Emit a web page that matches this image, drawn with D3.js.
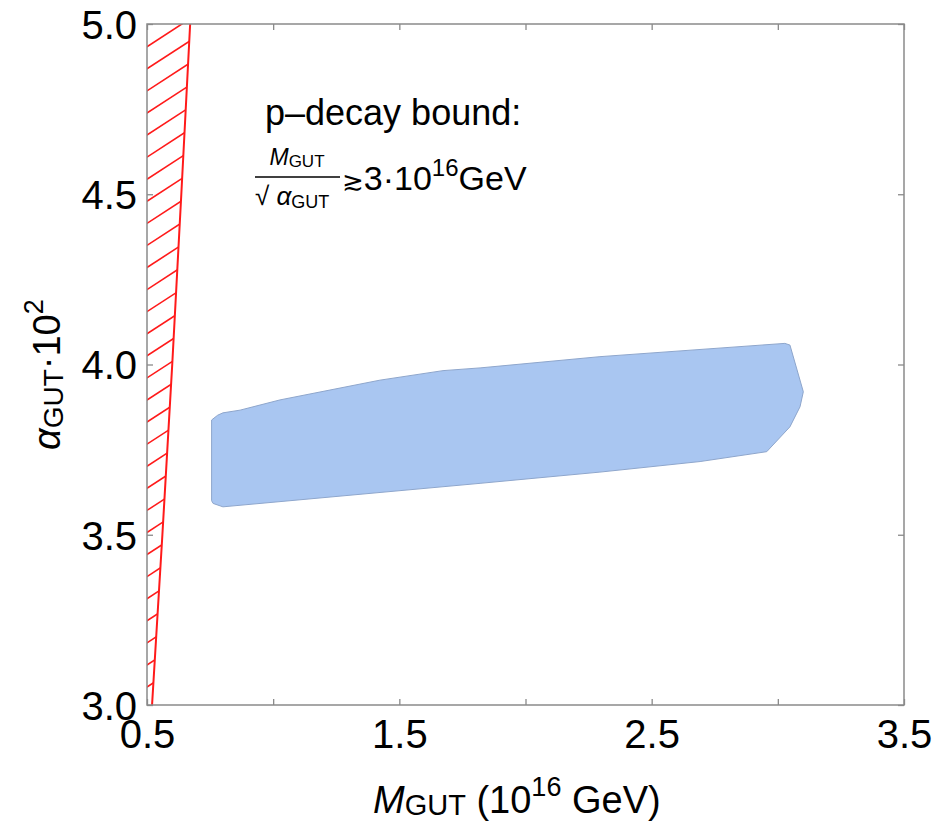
<!DOCTYPE html>
<html>
<head>
<meta charset="utf-8">
<script src="https://cdn.jsdelivr.net/npm/d3@7"></script>
<style>
  body { margin: 0; background: #fff; }
  svg { font-family: "Liberation Sans", Arial, sans-serif; }
</style>
</head>
<body>
<svg id="chart" width="948" height="827"></svg>
<script>
// tick values
var xTicks = [0.5, 1.0, 1.5, 2.0, 2.5, 3.0, 3.5]
var xLabels = [0.5, 1.5, 2.5, 3.5]
var yTicks = [3.0, 3.5, 4.0, 4.5, 5.0]

// proton decay bound
var boundAlpha = [3.0, 3.5, 4.0, 4.5, 5.0]
var boundM = [0.52, 0.561, 0.60, 0.636, 0.671]

// allowed region outline (blue), clockwise from lower left
var regionM = [0.762, 0.756, 0.756, 0.780, 0.801, 0.869, 1.027, 1.225, 1.423, 1.673, 1.820, 2.295, 3.028, 3.048, 3.101, 3.088, 3.048, 2.956, 2.692, 2.295, 1.820, 0.801]
var regionAlpha = [3.592, 3.600, 3.837, 3.851, 3.858, 3.866, 3.896, 3.925, 3.954, 3.982, 3.990, 4.023, 4.062, 4.057, 3.920, 3.876, 3.817, 3.744, 3.715, 3.684, 3.651, 3.582]

var margin = {left: 147, right: 44, top: 24, bottom: 122}
var width = 948, height = 827

var svg = d3.select("#chart")

var x = d3.scaleLinear().domain([0.5, 3.5]).range([margin.left, width - margin.right])
var y = d3.scaleLinear().domain([3, 5]).range([height - margin.bottom, margin.top])

var x0 = x.range()[0], x1 = x.range()[1]
var yTop = y.range()[1], yBot = y.range()[0]

svg.append("defs").append("clipPath")
  .attr("id", "plot-clip")
  .append("rect")
  .attr("x", x0).attr("y", yTop)
  .attr("width", x1 - x0).attr("height", yBot - yTop)

// hatched excluded area left of the bound
var hatchPts = [[x(0.5), y(5)]]
for (var i = boundAlpha.length - 1; i >= 0; i--) hatchPts.push([x(boundM[i]), y(boundAlpha[i])])
hatchPts.push([x(0.5), y(3)])

svg.select("defs").append("clipPath")
  .attr("id", "hatch-clip")
  .append("path")
  .attr("d", "M" + hatchPts.join("L") + "Z")

var plot = svg.append("g").attr("clip-path", "url(#plot-clip)")

var hatch = plot.append("g").attr("clip-path", "url(#hatch-clip)")
var slope = 0.65, step = 22.08
for (var yy = yTop + 22.7 - step; yy < yBot + 80; yy += step) {
  hatch.append("line")
    .attr("x1", x0 - 20).attr("y1", yy + 20 * slope)
    .attr("x2", x0 + 120).attr("y2", yy - 120 * slope)
    .attr("stroke", "#ff1a1a")
    .attr("stroke-width", 1.6)
}

var boundLine = d3.line()
  .x(function(d, i) { return x(boundM[i]) })
  .y(function(d) { return y(d) })

plot.append("path")
  .attr("d", boundLine(boundAlpha))
  .attr("fill", "none")
  .attr("stroke", "#ff1a1a")
  .attr("stroke-width", 2)

// allowed region
var regionLine = d3.line()
  .x(function(d) { return x(d) })
  .y(function(d, i) { return y(regionAlpha[i]) })

plot.append("path")
  .attr("d", regionLine(regionM) + "Z")
  .attr("fill", "#a9c6f1")
  .attr("stroke", "#8ea6cc")
  .attr("stroke-width", 1)

// axes, ticks pointing inward on all four sides
var fmt = d3.format(".1f")
var axisColor = "#8a8a8a"

function styleAxis(g) {
  g.select(".domain").remove()
  g.selectAll(".tick line").attr("stroke", axisColor).attr("stroke-width", 1.3)
  g.selectAll(".tick text").attr("fill", "#000").style("font-size", "40px")
}

svg.append("g")
  .attr("transform", "translate(0," + yBot + ")")
  .call(d3.axisBottom(x).tickValues(xTicks).tickSizeInner(-6).tickSizeOuter(0)
    .tickFormat(function(d) { return xLabels.indexOf(d) >= 0 ? fmt(d) : "" }))
  .call(styleAxis)
  .selectAll(".tick text").attr("y", 15).attr("dy", "0.71em")

svg.append("g")
  .attr("transform", "translate(0," + yTop + ")")
  .call(d3.axisTop(x).tickValues(xTicks).tickSizeInner(-6).tickSizeOuter(0).tickFormat(""))
  .call(styleAxis)

svg.append("g")
  .attr("transform", "translate(" + x0 + ",0)")
  .call(d3.axisLeft(y).tickValues(yTicks).tickSizeInner(-6).tickSizeOuter(0).tickFormat(fmt))
  .call(styleAxis)
  .selectAll(".tick text").attr("x", -10).attr("dy", "0.36em")

svg.append("g")
  .attr("transform", "translate(" + x1 + ",0)")
  .call(d3.axisRight(y).tickValues(yTicks).tickSizeInner(-6).tickSizeOuter(0).tickFormat(""))
  .call(styleAxis)

// frame
svg.append("rect")
  .attr("x", x0).attr("y", yTop)
  .attr("width", x1 - x0).attr("height", yBot - yTop)
  .attr("fill", "none")
  .attr("stroke", axisColor)
  .attr("stroke-width", 1.5)

// axis titles
var xt = svg.append("text")
  .attr("x", 373).attr("y", 813)
  .style("font-size", "38px")
xt.append("tspan").style("font-style", "italic").text("M")
xt.append("tspan").style("font-size", "29px").attr("dy", 2).text("GUT")
xt.append("tspan").attr("dy", -2).text(" (10")
xt.append("tspan").style("font-size", "27px").attr("dy", -17).text("16")
xt.append("tspan").attr("dy", 17).text(" GeV)")

var yt = svg.append("text")
  .attr("transform", "translate(60,450) rotate(-90)")
  .style("font-size", "38px")
yt.append("tspan").style("font-style", "italic").text("α")
yt.append("tspan").style("font-size", "28px").attr("dy", 3).text("GUT")
yt.append("tspan").attr("dy", -3).text("·10")
yt.append("tspan").style("font-size", "27px").attr("dy", -17).text("2")

// annotation
svg.append("text")
  .attr("x", 265).attr("y", 125)
  .style("font-size", "36px")
  .text("p\u2013decay bound:")

var num = svg.append("text").attr("x", 297).attr("y", 165).attr("text-anchor", "middle")
  .style("font-size", "23px")
num.append("tspan").style("font-style", "italic").text("M")
num.append("tspan").style("font-size", "17px").attr("dy", 2).text("GUT")

svg.append("line")
  .attr("x1", 255).attr("x2", 340).attr("y1", 177).attr("y2", 177)
  .attr("stroke", "#000").attr("stroke-width", 1.5)

var den = svg.append("text").attr("x", 255).attr("y", 205)
  .style("font-size", "26px")
den.append("tspan").text("\u221A ")
den.append("tspan").style("font-style", "italic").text("α")
den.append("tspan").style("font-size", "18px").attr("dy", 3).text("GUT")

var rhs = svg.append("text").attr("x", 342).attr("y", 190)
  .style("font-size", "34px")
rhs.append("tspan").style("font-family", "DejaVu Sans").style("font-size", "26px").text("\u2273")
rhs.append("tspan").text("3·10")
rhs.append("tspan").style("font-size", "24px").attr("dy", -14).text("16")
rhs.append("tspan").attr("dy", 14).text("GeV")
</script>
</body>
</html>
